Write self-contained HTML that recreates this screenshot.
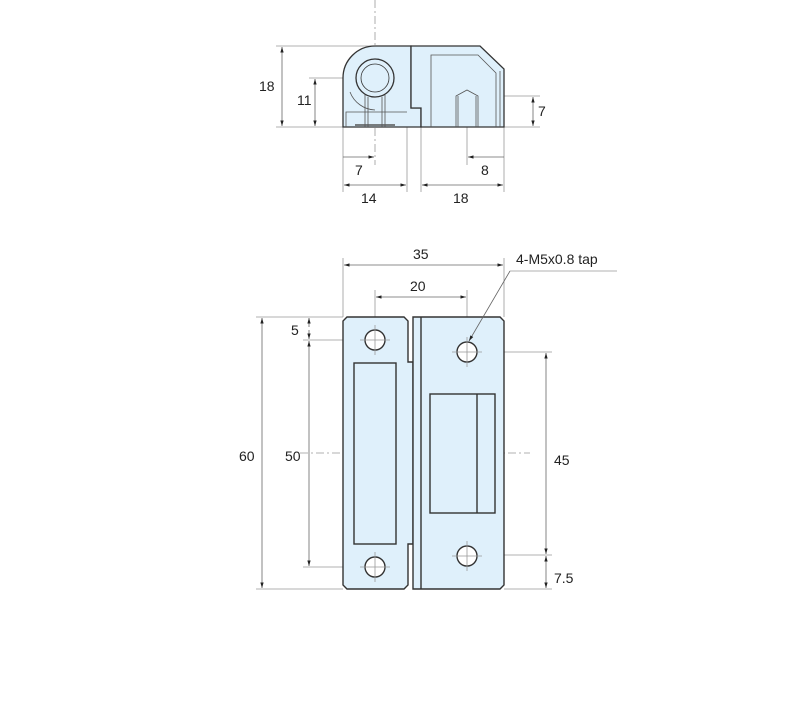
<!DOCTYPE html>
<html><head><style>
body{margin:0;background:#fff}
svg{display:block}
text{font-family:"Liberation Sans",sans-serif;font-size:14px;fill:#222}
</style></head><body>
<svg width="812" height="708" viewBox="0 0 812 708" xmlns="http://www.w3.org/2000/svg">
<defs>
<marker id="a" viewBox="0 0 10 10" refX="10" refY="5" markerWidth="7" markerHeight="7" orient="auto-start-reverse"><path d="M0,2 L10,5 L0,8z" fill="#222"/></marker>
</defs>
<g stroke="#999" stroke-width="0.8" fill="none">
<!-- top view extension lines -->
<line x1="276" y1="46" x2="411" y2="46"/>
<line x1="276" y1="127" x2="343" y2="127"/>
<line x1="309" y1="78" x2="420" y2="78"/>
<line x1="484" y1="96" x2="540" y2="96"/>
<line x1="504" y1="127" x2="540" y2="127"/>
<line x1="343" y1="127" x2="343" y2="192"/>
<line x1="407" y1="110" x2="407" y2="192"/>
<line x1="421" y1="127" x2="421" y2="192"/>
<line x1="504" y1="127" x2="504" y2="192"/>
<line x1="375" y1="0" x2="375" y2="165" stroke-dasharray="8,3,2,3"/>
<line x1="467" y1="78" x2="467" y2="165"/>
<!-- bottom view ext -->
<line x1="343" y1="258" x2="343" y2="317"/>
<line x1="504" y1="258" x2="504" y2="317"/>
<line x1="375" y1="290" x2="375" y2="330"/>
<line x1="467" y1="290" x2="467" y2="342"/>
<line x1="256" y1="317" x2="343" y2="317"/>
<line x1="256" y1="589" x2="343" y2="589"/>
<line x1="303" y1="340" x2="350" y2="340"/>
<line x1="303" y1="567" x2="350" y2="567"/>
<line x1="488" y1="352" x2="552" y2="352"/>
<line x1="488" y1="555" x2="552" y2="555"/>
<line x1="504" y1="589" x2="552" y2="589"/>
<line x1="510" y1="271" x2="617" y2="271"/>
<line x1="300" y1="453" x2="530" y2="453" stroke-dasharray="8,3,2,3"/>
</g>
<!-- top view part -->
<g stroke="#333" stroke-width="1.3" fill="#dff0fb">
<path d="M343,127 L343,78 A32,32 0 0 1 375,46 L411,46 L411,108 L421,108 L421,127 Z"/>
<path d="M411,46 L480,46 L504,69 L504,127 L421,127 L421,108 L411,108 Z"/>
<circle cx="375" cy="78" r="19"/>
<circle cx="375" cy="78" r="14" stroke-width="0.8"/>
</g>
<g stroke="#555" stroke-width="0.8" fill="none">
<path d="M346,127 L346,112 L407,112"/>
<path d="M350,92 A28,28 0 0 0 375,110"/>
<line x1="365" y1="95" x2="365" y2="127"/><line x1="385" y1="95" x2="385" y2="127"/>
<line x1="368" y1="97" x2="368" y2="127"/><line x1="382" y1="97" x2="382" y2="127"/>
<path d="M431,127 L431,55 L478,55 L496,73 L496,127"/>
<line x1="500" y1="71" x2="500" y2="127"/>
<path d="M456,127 L456,96 L467,90 L478,96 L478,127 M458,96 L458,127 M476,96 L476,127"/>
<line x1="355" y1="125" x2="395" y2="125" stroke-width="1.5"/>
</g>
<!-- bottom view parts -->
<g stroke="#333" stroke-width="1.4" fill="#dff0fb">
<path d="M347,317 L404,317 L408,321 L408,362 L413,362 L413,544 L408,544 L408,585 L404,589 L347,589 L343,585 L343,321 Z"/>
<path d="M413,317 L500,317 L504,321 L504,585 L500,589 L413,589 Z"/>
<line x1="421" y1="317" x2="421" y2="589"/>
<rect x="354" y="363" width="42" height="181"/>
<rect x="430" y="394" width="65" height="119"/>
<line x1="477" y1="394" x2="477" y2="513"/>
<circle cx="375" cy="340" r="10" fill="#fff"/>
<circle cx="375" cy="567" r="10" fill="#fff"/>
<circle cx="467" cy="352" r="10" fill="#fff"/>
<circle cx="467" cy="556" r="10" fill="#fff"/>
</g>
<g stroke="#999" stroke-width="0.8">
<line x1="360" y1="340" x2="390" y2="340"/><line x1="375" y1="325" x2="375" y2="355"/>
<line x1="360" y1="567" x2="390" y2="567"/><line x1="375" y1="552" x2="375" y2="582"/>
<line x1="452" y1="352" x2="482" y2="352"/><line x1="467" y1="337" x2="467" y2="367"/>
<line x1="452" y1="556" x2="482" y2="556"/><line x1="467" y1="541" x2="467" y2="571"/>
</g>
<!-- dimension lines -->
<g stroke="#666" stroke-width="0.8" fill="none" marker-start="url(#a)" marker-end="url(#a)">
<line x1="282" y1="47" x2="282" y2="126"/>
<line x1="315" y1="79" x2="315" y2="126"/>
<line x1="533" y1="97" x2="533" y2="126"/>
<line x1="344" y1="185" x2="406" y2="185"/>
<line x1="422" y1="185" x2="503" y2="185"/>
<line x1="344" y1="265" x2="503" y2="265"/>
<line x1="376" y1="297" x2="466" y2="297"/>
<line x1="262" y1="318" x2="262" y2="588"/>
<line x1="309" y1="341" x2="309" y2="566"/>
<line x1="546" y1="353" x2="546" y2="554"/>
</g>
<g stroke="#666" stroke-width="0.8" fill="none" marker-end="url(#a)">
<line x1="343" y1="157" x2="374" y2="157"/>
<line x1="504" y1="157" x2="468" y2="157"/>
<line x1="309" y1="327" x2="309" y2="318"/>
<line x1="309" y1="330" x2="309" y2="339"/>
<line x1="546" y1="572" x2="546" y2="556"/>
<line x1="546" y1="572" x2="546" y2="588"/>
<line x1="510" y1="271" x2="469" y2="341"/>
</g>
<text x="259" y="91">18</text>
<text x="297" y="105">11</text>
<text x="538" y="116">7</text>
<text x="355" y="175">7</text>
<text x="481" y="175">8</text>
<text x="361" y="203">14</text>
<text x="453" y="203">18</text>
<text x="413" y="259">35</text>
<text x="410" y="291">20</text>
<text x="516" y="264">4-M5x0.8 tap</text>
<text x="291" y="335">5</text>
<text x="239" y="461">60</text>
<text x="285" y="461">50</text>
<text x="554" y="465">45</text>
<text x="554" y="583">7.5</text>
</svg>
</body></html>
